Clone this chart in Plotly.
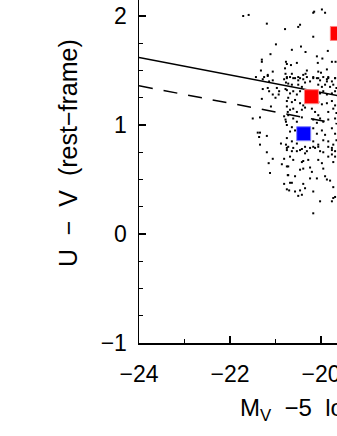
import plotly.graph_objects as go

# ---- data ----
dots_x = [
    -20.75, -20.68, -20.57, -20.50, -20.39, -20.31, -20.24, -20.17, -20.09, -20.02, -19.95, -19.87, -19.84, -19.76, -19.69,
    -20.72, -20.64, -20.50, -20.42, -20.35, -20.06, -19.98, -19.91, -19.80, -19.73, -19.66,
    -20.75, -20.68, -20.61, -20.53, -20.46, -20.02, -19.95, -19.87, -19.76, -19.69,
    -20.72, -20.64, -20.57, -20.46, -20.39, -20.06, -19.98, -19.87, -19.76, -19.69,
    -20.75, -20.68, -20.61, -20.53, -20.42, -20.35, -20.20, -20.13, -20.06, -19.84, -19.73, -19.66,
    -20.72, -20.61, -20.53, -20.42, -20.17, -20.09, -20.02, -19.95, -19.84, -19.69,
    -20.75, -20.64, -20.68, -20.57, -20.17, -20.09, -19.98, -19.91, -19.76, -19.69,
    -20.75, -20.64, -20.53, -20.17, -20.06, -19.95, -19.84, -19.73, -19.66,
    -20.72, -20.61, -20.35, -20.13, -19.76,
    -21.71, -21.59, -21.19, -20.79, -20.99, -21.11, -21.30, -21.30, -20.77, -21.32, -21.06, -21.17, -20.78, -21.25,
    -20.15, -20.17, -19.98, -19.91, -20.46, -20.50, -20.17, -20.44, -20.64, -20.34, -19.85, -20.09,
    -20.75, -20.53, -20.66, -20.07, -19.97, -19.76, -19.68, -20.79, -20.31, -20.34, -20.06, -20.00, -19.87,
    -20.64, -20.50, -20.46, -20.39, -20.17, -20.06, -19.87, -19.84, -19.69, -20.75, -20.61,
    -21.43, -21.28, -21.17, -21.14, -21.06, -20.81, -20.77, -21.28, -21.17, -20.97, -20.92, -20.78,
    -21.06, -20.93, -21.00, -21.14, -21.30, -20.75, -21.10, -21.50, -21.34, -20.81, -20.78, -20.77, -20.73,
    -21.39, -21.34, -21.36, -21.19, -21.34, -20.88, -20.77, -20.75,
    -21.06, -20.81, -21.19, -21.15, -20.86, -20.75, -21.12, -20.73, -20.81, -20.75, -20.75,
    -20.64, -20.68, -20.53, -20.46, -20.42, -20.35, -20.31, -20.24, -20.17, -20.06, -20.02, -19.95, -19.84, -19.76, -19.69,
    -19.84, -19.76, -19.69, -20.61, -20.42, -20.39, -20.28, -20.06, -19.98, -19.73,
    -20.72, -20.46, -20.39, -20.24, -20.20, -19.95, -20.72, -20.57, -20.24, -20.09, -19.91, -19.87, -19.80,
    -20.64, -20.68, -20.39, -20.35, -20.46, -20.17, -19.73, -19.69, -19.73, -20.50, -20.02, -19.76, -20.17,
    -20.70, -20.57, -20.42,
]
dots_y = [
    1.43, 1.44, 1.43, 1.41, 1.42, 1.44, 1.40, 1.43, 1.43, 1.41, 1.44, 1.40, 1.43, 1.40, 1.43,
    1.38, 1.37, 1.37, 1.35, 1.39, 1.37, 1.35, 1.37, 1.35, 1.37, 1.34,
    1.32, 1.29, 1.31, 1.28, 1.31, 1.29, 1.31, 1.28, 1.29, 1.31,
    1.25, 1.21, 1.23, 1.20, 1.18, 1.21, 1.19, 1.20, 1.22, 1.18,
    1.17, 1.14, 1.15, 1.12, 1.14, 1.16, 1.15, 1.12, 1.09, 1.12, 1.15, 1.11,
    1.09, 1.06, 1.03, 1.07, 1.05, 1.02, 1.06, 1.03, 1.05, 1.06,
    1.00, 0.98, 0.94, 0.95, 0.97, 0.92, 0.95, 0.91, 0.97, 0.92,
    0.88, 0.85, 0.83, 0.85, 0.82, 0.86, 0.85, 0.82, 0.86,
    0.80, 0.79, 0.80, 0.79, 0.79,
    2.00, 2.01, 1.93, 1.88, 1.74, 1.65, 1.60, 1.58, 1.58, 1.50, 1.49, 1.46, 1.47, 1.44,
    2.04, 2.03, 2.06, 2.03, 1.92, 1.90, 1.81, 1.72, 1.69, 1.67, 1.68, 1.63,
    1.56, 1.57, 1.55, 1.57, 1.61, 1.58, 1.58, 1.52, 1.50, 1.47, 1.49, 1.48, 1.51,
    1.47, 1.44, 1.43, 1.46, 1.44, 1.43, 1.42, 1.44, 1.43, 1.44, 1.43,
    1.44, 1.42, 1.45, 1.40, 1.41, 1.42, 1.39, 1.33, 1.34, 1.34, 1.31, 1.33,
    1.28, 1.28, 1.25, 1.31, 1.24, 1.22, 1.17, 1.06, 1.07, 1.08, 1.05, 1.03, 1.12,
    0.93, 0.93, 0.89, 0.90, 0.82, 0.83, 0.82, 0.79,
    0.69, 0.69, 0.75, 0.65, 0.64, 0.62, 0.56, 0.54, 0.46, 0.41, 0.77,
    0.76, 0.71, 0.76, 0.77, 0.78, 0.74, 0.76, 0.79, 0.80, 0.80, 0.76, 0.75, 0.80, 0.77, 0.76,
    0.71, 0.73, 0.71, 0.68, 0.66, 0.67, 0.68, 0.68, 0.65, 0.66,
    0.62, 0.59, 0.60, 0.61, 0.57, 0.60, 0.54, 0.53, 0.51, 0.51, 0.53, 0.50, 0.49,
    0.47, 0.47, 0.46, 0.42, 0.40, 0.39, 0.43, 0.34, 0.33, 0.35, 0.30, 0.30, 0.19,
    0.40, 0.39, 0.36,
]

solid_x = [-24.0, -19.5]
solid_y = [1.62, 1.26]
dashed_x = [-24.0, -19.5]
dashed_y = [1.36, 1.00]

red_x = [-20.21, -19.64]
red_y = [1.26, 1.84]
blue_x = [-20.38]
blue_y = [0.92]

x_range = [-24.0, -19.648]
y_range = [-1.0, 2.147]
x_ticks = [-24, -22, -20]
y_ticks = [-1, 0, 1, 2]

FONT = "Liberation Sans, Arial, sans-serif"

fig = go.Figure()
fig.add_trace(go.Scatter(x=dots_x, y=dots_y, mode="markers",
                         marker=dict(symbol="square", size=2, color="black", line=dict(width=0)),
                         hoverinfo="skip"))
fig.add_trace(go.Scatter(x=solid_x, y=solid_y, mode="lines",
                         line=dict(color="black", width=1.5), hoverinfo="skip"))
fig.add_trace(go.Scatter(x=dashed_x, y=dashed_y, mode="lines",
                         line=dict(color="black", width=1.5, dash="14px,11px"), hoverinfo="skip"))
fig.add_trace(go.Scatter(x=red_x, y=red_y, mode="markers",
                         marker=dict(symbol="square", size=14, color="#ff0000",
                                     line=dict(color="#ff8080", width=1)), hoverinfo="skip"))
fig.add_trace(go.Scatter(x=blue_x, y=blue_y, mode="markers",
                         marker=dict(symbol="square", size=14, color="#0000ff",
                                     line=dict(color="#8080ff", width=1)), hoverinfo="skip"))

axis_common = dict(showgrid=False, zeroline=False, showline=True, linecolor="black",
                   linewidth=1.5, ticks="inside", tickcolor="black", tickwidth=1.2,
                   automargin=False, ticklabeloverflow="allow",
                   tickfont=dict(family=FONT, size=23, color="black"))

fig.update_xaxes(range=x_range, tickvals=x_ticks, ticklen=7,
                 minor=dict(dtick=1, tick0=-24, ticks="inside", ticklen=4, tickcolor="black", tickwidth=1.2),
                 ticklabelstandoff=10, **axis_common)
fig.update_yaxes(range=y_range, tickvals=y_ticks, ticklen=7,
                 minor=dict(dtick=0.25, tick0=0, ticks="inside", ticklen=4, tickcolor="black", tickwidth=1.2),
                 ticklabelstandoff=6, **axis_common)

fig.add_annotation(text="U\u00a0\u00a0\u2212\u00a0\u00a0V\u00a0\u00a0(rest\u2212frame)",
                   xref="paper", yref="paper", x=-0.358, y=0.5 + (171.5 - 153) / 343,
                   xanchor="center", yanchor="middle", textangle=-90, showarrow=False,
                   font=dict(family=FONT, size=25, color="black"))
fig.add_annotation(text="M<sub>V</sub>\u00a0\u00a0\u22125\u00a0\u00a0log\u00a0h",
                   xref="paper", yref="paper", x=(238 - 139) / 198, y=-(392 - 343) / 343,
                   xanchor="left", yanchor="top", showarrow=False,
                   font=dict(family=FONT, size=24, color="black"))

fig.update_layout(width=337, height=436, margin=dict(l=139, r=0, t=0, b=93, autoexpand=False),
                  paper_bgcolor="white", plot_bgcolor="white", showlegend=False,
                  hovermode=False)

fig.write_html("out.html", config={"displayModeBar": False, "staticPlot": True},
               post_script="document.body.style.margin='0px';document.body.style.overflow='hidden';")
